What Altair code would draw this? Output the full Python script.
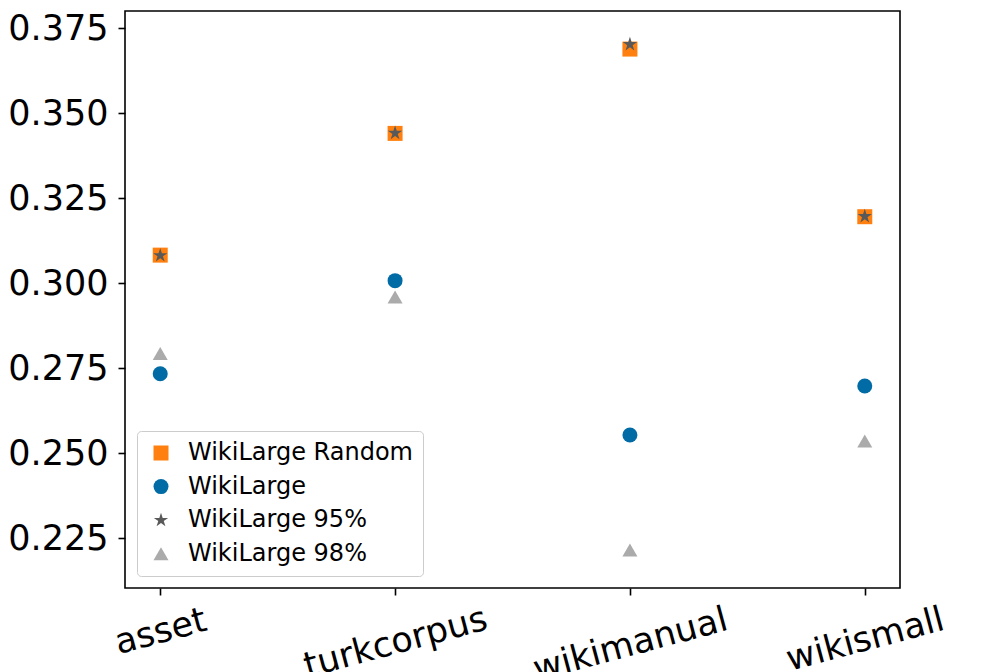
import altair as alt
import pandas as pd

datasets = ["asset", "turkcorpus", "wikimanual", "wikismall"]
series = ["WikiLarge Random", "WikiLarge", "WikiLarge 95%", "WikiLarge 98%"]
random_vals = [0.3083, 0.3441, 0.3689, 0.3196]
wikilarge_vals = [0.2734, 0.3008, 0.2554, 0.2698]
p95_vals = [0.3082, 0.3442, 0.3703, 0.3197]
p98_vals = [0.2794, 0.2960, 0.2216, 0.2536]
y_ticks = [0.225, 0.250, 0.275, 0.300, 0.325, 0.350, 0.375]

colors = ["#FF800E", "#006BA4", "#595959", "#ABABAB"]
star = ("M0,-1L0.2245,-0.309L0.9511,-0.309L0.3633,0.118L0.5878,0.809L0,0.382"
        "L-0.5878,0.809L-0.3633,0.118L-0.9511,-0.309L-0.2245,-0.309Z")
shapes = ["square", "circle", star, "triangle-up"]

rows = []
for k, (name, vals) in enumerate(zip(series, [random_vals, wikilarge_vals, p95_vals, p98_vals])):
    for d, v in zip(datasets, vals):
        rows.append({"dataset": d, "series": name, "value": v, "ord": k})
df = pd.DataFrame(rows)

FONT = "DejaVu Sans"

legend = alt.Legend(
    title=None, orient="bottom-left", offset=12,
    fillColor="rgba(255,255,255,0.8)", strokeColor="#cccccc", cornerRadius=4,
    padding=10, labelFont=FONT, labelFontSize=24, labelColor="black", labelLimit=0,
    symbolSize=225, symbolStrokeWidth=0, symbolOpacity=1, rowPadding=9.6,
    labelOffset=15, symbolOffset=2,
)

pad_cond = {
    "condition": [
        {"test": "datum.value === 'turkcorpus'", "value": 47},
        {"test": "datum.value === 'wikimanual'", "value": 49},
        {"test": "datum.value === 'wikismall'", "value": 44},
    ],
    "value": 36,
}

chart = alt.Chart(df).mark_point(filled=True, size=225, opacity=1, strokeWidth=0).encode(
    x=alt.X("dataset:N", sort=datasets,
            scale=alt.Scale(type="point", padding=0.15),
            axis=alt.Axis(title=None, labelAngle=345, labelAlign="center", labelBaseline="middle",
                          labelFont=FONT, labelFontSize=35, labelColor="black", labelLimit=0,
                          labelPadding=pad_cond, labelOverlap=False, labelBound=False, labelFlush=False,
                          tickSize=7, tickColor="black", tickWidth=1.6, domain=False, grid=False)),
    y=alt.Y("value:Q",
            scale=alt.Scale(domain=[0.2104, 0.3801], nice=False, zero=False),
            axis=alt.Axis(title=None, values=y_ticks, format=".3f",
                          labelFont=FONT, labelFontSize=35, labelColor="black", labelPadding=10,
                          tickSize=7, tickColor="black", tickWidth=1.6, domain=False, grid=False)),
    color=alt.Color("series:N", scale=alt.Scale(domain=series, range=colors), legend=legend),
    shape=alt.Shape("series:N", scale=alt.Scale(domain=series, range=shapes), legend=legend),
    order=alt.Order("ord:Q"),
).properties(
    width=775, height=577,
    autosize=alt.AutoSizeParams(type="none"),
    padding={"left": 117, "top": 3, "right": 90, "bottom": 84},
).configure_view(stroke="black", strokeWidth=1.6)

chart.save("out.html", embed_options={"renderer": "svg", "actions": False})
